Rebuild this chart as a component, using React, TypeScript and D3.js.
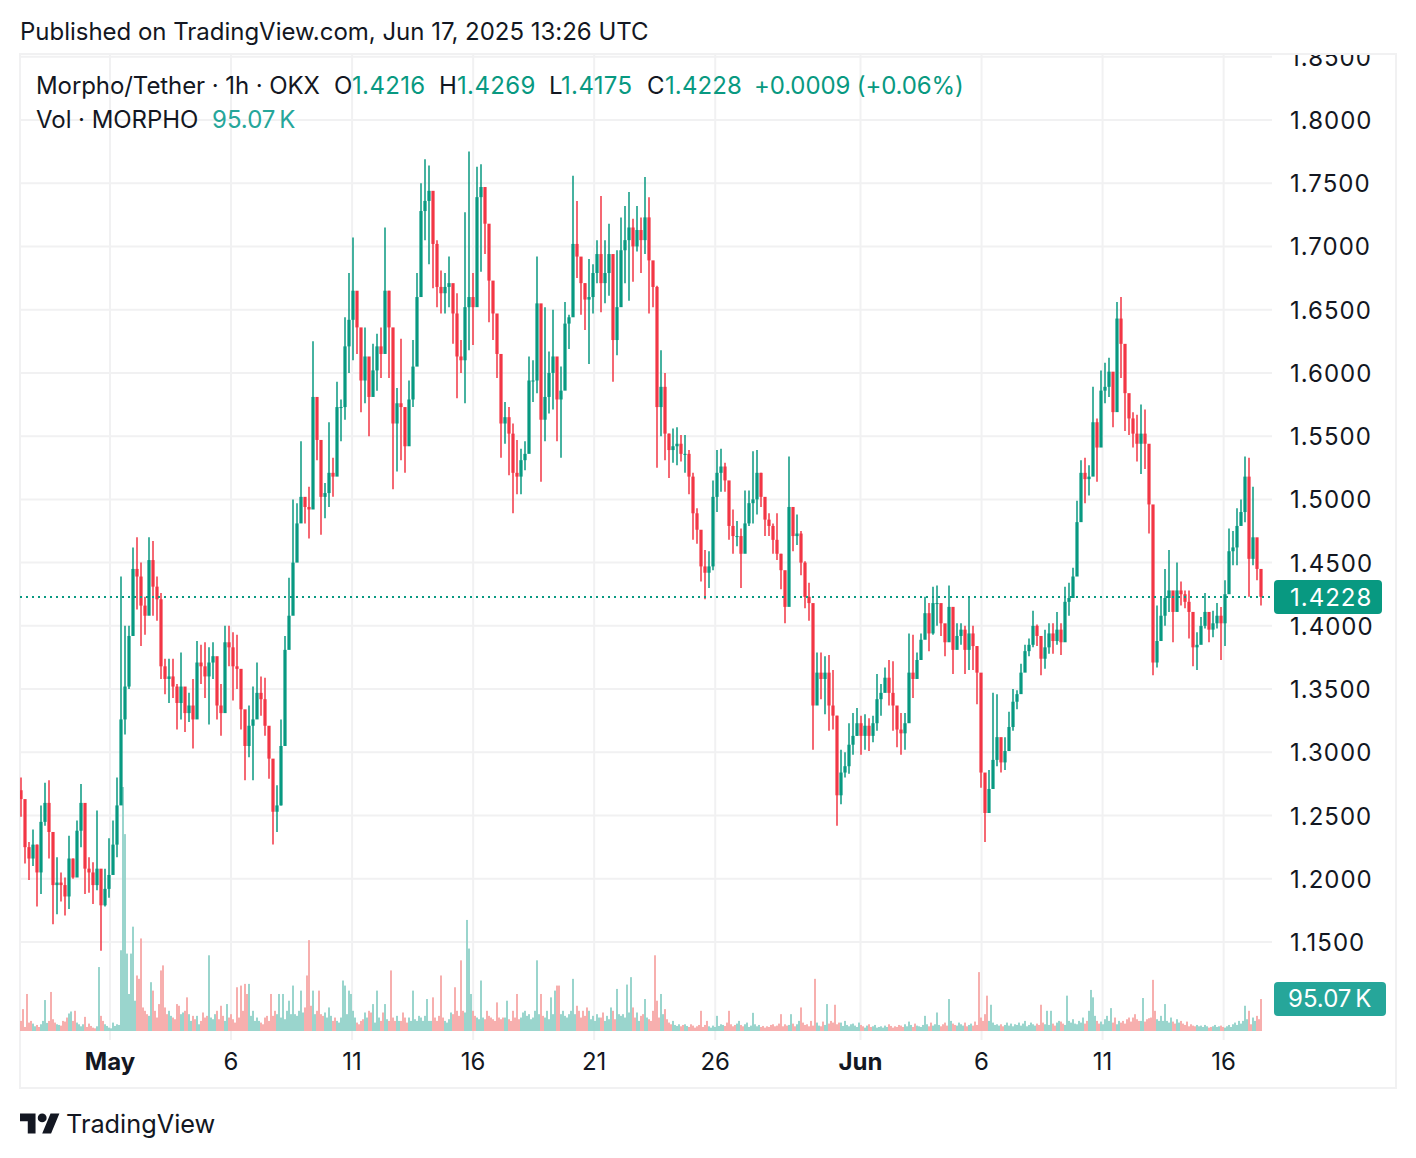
import React from "react";
import * as d3 from "d3";

// Candles, one per 4 hourly bars, in thousandths of USDT.
const highs = [
1280,1249,1229,1239,1227,1258,1276,1278,1225,1217,1205,1201,1234,1216,1246,1275,1242,1217,1213,1254,1196,1208,1232,1246,1280,
1439,1400,1400,1462,1470,1450,1423,1470,1467,1439,1426,1374,1374,1374,1354,1379,1350,1347,1358,1388,1385,1387,1383,1387,1366,
1354,1400,1400,1395,1393,1360,1326,1337,1352,1371,1360,1359,1318,1279,1274,1326,1392,1438,1500,
1497,1546,1501,1510,1625,1581,1531,1513,1561,1533,1593,1579,1644,1679,1707,1655,1609,1636,1600,1623,1631,1636,1715,1665,1607,
1588,1627,1551,1594,1626,1679,1750,1769,1764,1736,1705,1681,1679,1692,1661,1663,1626,1727,1775,1679,1763,1765,1739,1694,1660,
1623,1586,1577,1573,1560,1547,1540,1546,1613,1610,1692,1613,1652,1617,1650,1589,1605,1656,1646,1756,1736,1686,1671,1690,1686,
1705,1740,1705,1718,1644,1697,1723,1732,1743,1722,1732,1723,1755,1739,1688,1669,1618,1600,1552,
1556,1557,1551,1551,1539,1521,1493,1473,1460,1459,1515,1539,1540,1529,1507,1492,1483,1477,1507,1507,1538,1539,1521,1500,1489,
1481,1489,1457,1427,1534,1489,1488,1475,1451,1434,1405,1379,1379,1376,1377,1365,1329,1302,1300,1323,1331,1335,1329,1330,1327,
1329,1362,1354,1367,1373,1372,1331,1331,1331,1394,1393,1379,1394,1423,1418,1431,1432,1409,1401,1432,1394,1402,1402,1400,1422,
1400,1384,1351,1276,1286,1347,
1346,1306,1312,1332,1350,1349,1370,1385,1390,1412,1401,1385,1397,1402,1402,1411,1402,1431,1434,1446,1499,1531,1533,1527,1589,
1564,1602,1608,1612,1585,1656,1660,1620,1578,1569,1567,1575,1571,1541,1484,1416,1422,1445,1460,1425,1450,1435,1428,1428,1404,
1395,1407,1426,1404,1412,1418,1415,1436,1477,1475,1493,1500,1534,1533,1510,1462,1439,
];
const lows = [
1249,1212,1199,1210,1178,1188,1242,1216,1164,1172,1182,1171,1176,1200,1210,1225,1188,1189,1180,1191,1143,1178,1185,1216,1217,
1300,1314,1350,1392,1413,1384,1393,1423,1408,1404,1358,1346,1339,1343,1318,1326,1316,1324,1303,1335,1354,1343,1322,1358,1326,
1313,1355,1368,1341,1350,1318,1278,1296,1278,1333,1329,1313,1279,1227,1237,1258,1364,1384,1418,
1468,1485,1481,1469,1510,1531,1472,1485,1494,1502,1529,1546,1563,1600,1610,1615,1569,1576,1550,1586,1586,1596,1619,1596,1508,
1522,1531,1521,1550,1573,1610,1698,1705,1686,1667,1652,1647,1647,1652,1623,1580,1600,1576,1618,1622,1700,1680,1694,1640,1626,
1596,1533,1544,1519,1489,1504,1504,1523,1556,1577,1584,1514,1546,1568,1571,1546,1533,1605,1619,1646,1675,1646,1634,1607,1647,
1671,1648,1655,1661,1593,1614,1659,1671,1657,1672,1696,1679,1694,1647,1652,1525,1550,1531,1517,
1529,1527,1530,1521,1504,1468,1465,1435,1421,1430,1444,1490,1506,1506,1468,1457,1463,1430,1465,1479,1481,1488,1494,1471,1471,
1457,1452,1429,1402,1439,1459,1464,1440,1414,1404,1302,1339,1342,1330,1317,1318,1242,1259,1280,1283,1298,1313,1298,1302,1301,
1308,1317,1329,1350,1337,1317,1304,1298,1302,1337,1343,1362,1377,1393,1380,1393,1400,1392,1376,1394,1362,1385,1385,1362,1365,
1365,1338,1272,1229,1256,1276,
1289,1284,1286,1306,1317,1334,1351,1366,1376,1383,1384,1361,1366,1378,1378,1385,1377,1404,1408,1432,1450,1496,1497,1503,1524,
1514,1552,1576,1581,1557,1572,1596,1554,1551,1541,1530,1520,1524,1473,1361,1367,1397,1400,1411,1387,1419,1416,1414,1390,1368,
1365,1394,1398,1387,1391,1398,1373,1384,1433,1448,1448,1480,1482,1423,1448,1436,1416,
];
const closes = [
1263,1225,1216,1227,1205,1245,1260,1237,1195,1197,1195,1186,1216,1201,1238,1260,1208,1205,1195,1208,1179,1192,1203,1227,1258,
1326,1352,1392,1445,1439,1416,1408,1452,1431,1421,1368,1358,1360,1352,1339,1352,1331,1337,1326,1371,1368,1360,1371,1376,1337,
1331,1387,1383,1368,1366,1334,1305,1321,1326,1347,1342,1321,1295,1253,1258,1305,1381,1408,1450,
1481,1502,1494,1492,1581,1547,1502,1505,1521,1518,1573,1573,1621,1642,1665,1636,1594,1613,1581,1602,1621,1615,1665,1636,1560,
1576,1573,1542,1579,1605,1660,1728,1736,1744,1702,1668,1663,1668,1671,1647,1613,1610,1652,1660,1652,1739,1747,1718,1673,1647,
1615,1560,1565,1552,1521,1518,1531,1536,1594,1594,1655,1563,1581,1600,1613,1579,1586,1639,1644,1702,1692,1671,1658,1660,1679,
1694,1671,1679,1694,1626,1652,1697,1705,1715,1700,1713,1705,1723,1689,1668,1573,1589,1552,1539,
1542,1544,1536,1536,1518,1489,1476,1447,1442,1447,1502,1521,1526,1515,1479,1471,1471,1457,1481,1497,1500,1521,1502,1484,1479,
1468,1457,1444,1415,1494,1471,1473,1450,1423,1418,1337,1363,1358,1363,1337,1329,1266,1284,1289,1306,1313,1323,1313,1321,1313,
1323,1342,1347,1359,1347,1337,1318,1315,1323,1363,1358,1373,1389,1410,1394,1418,1418,1402,1387,1415,1381,1392,1397,1381,1394,
1384,1363,1284,1252,1271,1294,
1312,1292,1301,1320,1340,1346,1363,1380,1385,1400,1392,1374,1383,1394,1388,1397,1387,1419,1422,1439,1482,1521,1516,1518,1561,
1541,1586,1589,1601,1569,1643,1623,1584,1564,1552,1544,1552,1544,1496,1371,1388,1408,1422,1428,1411,1428,1425,1419,1411,1383,
1385,1400,1411,1397,1402,1408,1402,1425,1459,1462,1479,1490,1518,1453,1470,1445,1423,
];

// Volume, one per 2 hourly bars, in thousands of MORPHO.
const volumes = [
30,65,12,110,25,30,22,14,18,12, 20,30,92,24,30,116,35,25,20,18, 16,30,28,40,52,58,30,60,25,20, 14,20,42,12,22,15,10,8,14,190,
45,30,20,15,10,8,25,15,20,18, 240,725,585,230,110,230,310,90,165,155, 275,70,60,50,45,145,120,60,40,80, 180,195,70,50,60,45,40,35,80,75,
50,55,60,100,50,30,45,35,45,20, 30,55,40,45,225,40,35,50,60,35, 75,45,30,80,40,50,35,25,130,40, 135,60,140,110,140,45,60,30,40,30,
25,20,40,45,30,110,45,60,50,110, 40,110,35,60,90,50,135,50,45,60, 120,55,70,165,270,75,120,50,60,120, 50,45,55,40,70,45,30,40,30,25,
40,150,135,50,120,110,60,40,25,20, 30,35,55,40,60,55,80,25,120,40, 30,55,80,35,30,180,40,30,45,30, 30,55,40,25,40,30,120,35,30,45,
40,30,45,95,30,30,100,40,30,45, 165,40,30,25,35,55,50,130,60,45, 210,60,55,330,245,110,60,45,40,35, 150,40,35,60,45,40,35,30,85,40,
35,40,40,90,35,30,60,40,110,35, 40,55,60,45,50,35,40,60,210,50, 110,45,40,60,35,100,50,120,135,135, 50,60,45,40,50,60,155,50,75,60,
40,60,45,70,60,35,45,30,50,40, 40,55,30,45,35,70,60,35,125,50, 45,50,40,138,55,160,70,40,55,30, 45,50,95,40,35,30,60,225,90,40,
110,50,65,35,25,20,30,18,15,20, 14,18,20,15,12,20,16,10,14,18, 60,12,18,30,14,10,16,12,45,15, 20,18,15,25,60,20,14,18,22,30,
18,14,20,25,12,16,54,20,14,18, 12,15,10,14,12,18,20,14,16,22, 50,14,20,16,18,50,22,14,20,30, 70,25,18,20,14,30,16,155,25,16,
14,28,18,80,22,30,25,78,20,25, 25,15,30,18,14,20,22,16,12,25, 18,14,10,16,20,12,14,18,10,12, 14,10,16,12,20,15,10,14,12,18,
16,12,20,14,28,18,12,22,16,14, 12,18,45,20,14,25,16,20,55,18, 14,20,25,16,95,30,22,18,16,25, 20,16,25,14,18,22,16,28,18,175,
40,30,50,105,30,78,25,18,20,16, 20,14,18,25,16,22,14,20,18,25, 16,22,30,14,18,25,20,16,22,18, 78,25,20,60,18,60,22,16,25,30,
28,22,18,105,30,25,35,22,20,30, 25,40,22,30,60,122,100,45,30,22, 28,20,35,45,30,68,25,40,20,30, 25,30,22,35,40,28,40,50,35,30,
30,98,28,35,38,40,152,60,35,30, 45,30,80,30,25,40,28,22,35,25, 30,22,18,28,14,20,16,14,18,14, 16,12,18,14,10,12,14,18,12,14,
16,12,10,14,18,12,20,25,18,30, 22,30,75,35,60,20,40,30,45,35, 95,
];

const priceTicks = [1.85, 1.8, 1.75, 1.7, 1.65, 1.6, 1.55, 1.5, 1.45, 1.4, 1.35, 1.3, 1.25, 1.2, 1.15];
const timeTicks = [
  { date: "2025-05-01", label: "May", bold: true },
  { date: "2025-05-06", label: "6", bold: false },
  { date: "2025-05-11", label: "11", bold: false },
  { date: "2025-05-16", label: "16", bold: false },
  { date: "2025-05-21", label: "21", bold: false },
  { date: "2025-05-26", label: "26", bold: false },
  { date: "2025-06-01", label: "Jun", bold: true },
  { date: "2025-06-06", label: "6", bold: false },
  { date: "2025-06-11", label: "11", bold: false },
  { date: "2025-06-16", label: "16", bold: false },
];
const lastPrice = 1.4228;
const lastVolume = 95.07;

const UP = "#089981";
const DOWN = "#f23645";
const VOL_UP = "#8fd1c8";
const VOL_DOWN = "#f7a7a6";
const GRID = "#f1f1f2";
const INK = "#131722";
const VOL_LABEL = "#26a69a";
const FONT = "Inter, 'Noto Sans', sans-serif";
const AXIS_SPACING = 1;

const yPrice = d3.scaleLinear().domain([1.8, 1.15]).range([120, 942]);
const xBar = d3.scaleLinear().domain([0, closes.length - 1]).range([21, 1261]);
const xVol = d3.scaleLinear().domain([0, volumes.length - 1]).range([21, 1261]);
const xTime = d3.scaleUtc().domain([new Date("2025-05-01T00:00Z"), new Date("2025-06-01T00:00Z")]).range([110, 860.5]);
const yVol = d3.scaleLinear().domain([0, 725]).range([1031, 787]);

const candles = closes.map((c, i) => {
  const open = i === 0 ? 1270 : closes[i - 1];
  return { i, open: open / 1000, close: c / 1000, high: highs[i] / 1000, low: lows[i] / 1000, up: c >= open };
});

const tx = (x: number, y: number, s: string, fill = INK, extra: any = {}) => (
  <text x={x} y={y} fill={fill} fontFamily={FONT} fontSize={24} {...extra}>{s}</text>
);

export default function App() {
  return (
    <svg width={1416} height={1158} style={{ position: "absolute", left: 0, top: 0, display: "block", background: "#fff" }}>
      <defs>
        <clipPath id="pane"><rect x={20} y={55} width={1376} height={1033} /></clipPath>
      </defs>
      {tx(20, 40, "Published on TradingView.com, Jun 17, 2025 13:26 UTC", INK, { letterSpacing: -0.02 })}
      <rect x={20} y={54} width={1376} height={1034} fill="none" stroke={GRID} strokeWidth={2} />
      <g clipPath="url(#pane)">
        {timeTicks.map((t) => (
          <line key={t.date} x1={xTime(new Date(t.date + "T00:00Z"))} x2={xTime(new Date(t.date + "T00:00Z"))} y1={54} y2={1040} stroke={GRID} strokeWidth={2} />
        ))}
        {priceTicks.map((p) => (
          <line key={p} x1={20} x2={1272} y1={yPrice(p)} y2={yPrice(p)} stroke={GRID} strokeWidth={2} />
        ))}
        {priceTicks.map((p) => (
          <text key={p} x={1290} y={yPrice(p) + 9} fontFamily={FONT} fontSize={24} letterSpacing={AXIS_SPACING} fill={INK}>{p.toFixed(4)}</text>
        ))}
        {volumes.map((v, k) => {
          const c = candles[Math.min(Math.floor(k / 2), candles.length - 1)];
          return <rect key={k} x={xVol(k) - 0.9} width={1.8} y={yVol(v)} height={yVol(0) - yVol(v)} fill={c.up ? VOL_UP : VOL_DOWN} />;
        })}
        {candles.map((c) => {
          const col = c.up ? UP : DOWN;
          const top = yPrice(Math.max(c.open, c.close));
          const bot = yPrice(Math.min(c.open, c.close));
          return (
            <g key={c.i}>
              <line x1={xBar(c.i)} x2={xBar(c.i)} y1={yPrice(c.high)} y2={yPrice(c.low)} stroke={col} strokeWidth={1.5} />
              <rect x={xBar(c.i) - 1.6} width={3.2} y={top} height={Math.max(1, bot - top)} fill={col} />
            </g>
          );
        })}
        <line x1={20} x2={1272} y1={yPrice(lastPrice)} y2={yPrice(lastPrice)} stroke={UP} strokeWidth={2} strokeDasharray="2 4" />
      </g>

      {tx(36, 94, "Morpho/Tether · 1h · OKX", INK, { letterSpacing: -0.08 })}
      {tx(334, 94, "O")}{tx(352, 94, "1.4216", UP, { letterSpacing: 0.35 })}
      {tx(439, 94, "H")}{tx(457, 94, "1.4269", UP, { letterSpacing: 0.35 })}
      {tx(549, 94, "L")}{tx(561, 94, "1.4175", UP, { letterSpacing: 0.35 })}
      {tx(647, 94, "C")}{tx(665, 94, "1.4228", UP, { letterSpacing: 0.1 })}
      {tx(754, 94, "+0.0009 (+0.06%)", UP, { letterSpacing: -0.12 })}
      {tx(36, 128, "Vol · MORPHO", INK, { letterSpacing: -0.05 })}
      {tx(212, 128, `${lastVolume} K`, VOL_LABEL, { wordSpacing: -3 })}

      <rect x={1274} y={yPrice(lastPrice) - 17} width={108} height={34} rx={4} fill={UP} />
      {tx(1290, yPrice(lastPrice) + 9, lastPrice.toFixed(4), "#fff", { letterSpacing: AXIS_SPACING })}
      <rect x={1274} y={982} width={112} height={34} rx={4} fill={VOL_LABEL} />
      {tx(1288, 1007, `${lastVolume} K`, "#fff", { wordSpacing: -3 })}

      {timeTicks.map((t) => (
        <text key={t.date} x={xTime(new Date(t.date + "T00:00Z"))} y={1070} textAnchor="middle" fontFamily={FONT} fontSize={24} fontWeight={t.bold ? 700 : 400} fill={INK}>{t.label}</text>
      ))}

      <g transform="translate(20,1109) scale(1.11)" fill={INK}>
        <path d="M14 22H7V11H0V4h14v18zM28 22h-8l7.5-18h8L28 22z" />
        <circle cx={20} cy={8} r={4} />
      </g>
      {tx(66, 1133, "TradingView", INK, { fontSize: 25.3 })}
    </svg>
  );
}
